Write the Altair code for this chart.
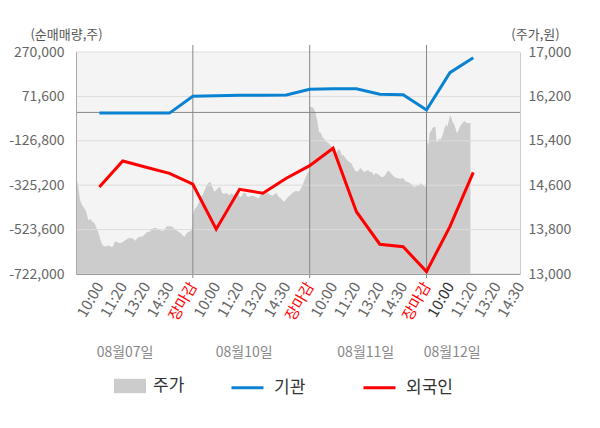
import json
import altair as alt
import pandas as pd

FONT = "Noto Sans CJK KR"

# ---- data ----
left_ticks = [270000, 71600, -126800, -325200, -523600, -722000]
right_ticks = [17000, 16200, 15400, 14600, 13800, 13000]
time_labels = ["10:00", "11:20", "13:20", "14:30", "장마감"] * 3 + ["10:00", "11:20", "13:20", "14:30"]
day_labels = ["08월07일", "08월10일", "08월11일", "08월12일"]
day_label_pos = [2.1, 7.2, 12.4, 16.1]
day_breaks = [5, 10, 15]

line_slots = list(range(1, 18))
inst = [-3000, -3000, -3000, -3000, 72000, 74000, 76500, 76500, 77900, 103300,
        106000, 106000, 81000, 79200, 10800, 177500, 244500]
foreign = [-333000, -217000, -245000, -272000, -321000, -522000, -343500, -361000,
           -294000, -238000, -160000, -443500, -589000, -600000, -711500, -510500, -267500]

price_d1 = [14780, 14600, 14330, 14240, 14190, 14120, 13970, 13990, 13940, 13920, 13830,
            13740, 13610, 13520, 13500, 13500, 13520, 13490, 13490, 13580, 13580, 13560,
            13560, 13580, 13610, 13630, 13650, 13650, 13630, 13600, 13650, 13670, 13670,
            13690, 13740, 13760, 13760, 13810, 13830, 13830, 13810, 13790, 13780, 13780,
            13850, 13860, 13860, 13850, 13810, 13790, 13760, 13740, 13700, 13670, 13740,
            13760, 13780, 13830]
price_d2 = [14060, 14170, 14210, 14280, 14370, 14420, 14510, 14590, 14640, 14660, 14570,
            14480, 14510, 14550, 14570, 14460, 14440, 14460, 14440, 14420, 14460, 14420,
            14460, 14460, 14390, 14390, 14460, 14460, 14390, 14390, 14410, 14410, 14390,
            14370, 14370, 14440, 14460, 14440, 14460, 14440, 14420, 14410, 14440, 14460,
            14390, 14370, 14330, 14300, 14350, 14390, 14420, 14460, 14480, 14500, 14480,
            14510, 14570, 14660, 14750, 14820, 14870]
price_d3 = [16010, 16010, 15990, 15920, 15770, 15560, 15540, 15450, 15430, 15380, 15360,
            15320, 15270, 15140, 15180, 15230, 15250, 15140, 15140, 15090, 15050, 15020,
            15000, 14930, 14870, 14840, 14870, 14910, 14870, 14840, 14860, 14870, 14840,
            14840, 14780, 14820, 14800, 14780, 14750, 14750, 14780, 14840, 14860, 14820,
            14780, 14750, 14730, 14730, 14710, 14730, 14710, 14660, 14660, 14640, 14620,
            14570, 14570, 14590, 14590, 14640, 14600, 14570, 14570]
price_d4 = [15410, 15360, 15320, 15540, 15560, 15590, 15630, 15650, 15650, 15650, 15380,
            15380, 15430, 15430, 15430, 15450, 15500, 15560, 15630, 15670, 15700, 15650,
            15740, 15810, 15860, 15810, 15740, 15720, 15680, 15630, 15560, 15540, 15590,
            15630, 15670, 15700, 15720, 15740, 15760, 15740, 15720, 15720, 15720, 15720,
            15720]
day_spans = [(0, 5), (5, 10), (10, 15), (15, 16.88)]

# ---- tables ----
rows = []
for vals, (a, b) in zip([price_d1, price_d2, price_d3, price_d4], day_spans):
    n = len(vals)
    for i, v in enumerate(vals):
        rows.append({"slot": a + (b - a) * i / (n - 1), "price": v, "series": "주가"})
price_df = pd.DataFrame(rows)

lines_df = pd.DataFrame(
    [{"slot": s, "value": v, "series": "기관"} for s, v in zip(line_slots, inst)]
    + [{"slot": s, "value": v, "series": "외국인"} for s, v in zip(line_slots, foreign)]
)
grid_df = pd.DataFrame({"v": left_ticks})
zero_df = pd.DataFrame({"v": [0]})
sep_df = pd.DataFrame({"slot": day_breaks})
dates_df = pd.DataFrame({"pos": day_label_pos, "label": day_labels})

# ---- scales & axes ----
def xscale():
    return alt.Scale(domain=[0, 19], nice=False, zero=False)

def ly_scale():
    return alt.Scale(domain=[-722000, 270000], nice=False, zero=False)

def ry_scale():
    return alt.Scale(domain=[13000, 17000], nice=False, zero=False)

def x_axis():
    return alt.Axis(
        values=list(range(1, 20)),
        labelExpr=json.dumps(time_labels) + "[datum.value - 1]",
        labelAngle=300, labelAlign="right", labelBaseline="middle",
        labelPadding=9, labelFontSize=15, labelFont=FONT, labelOverlap=False,
        labelFlush=False, ticks=False, domainColor="#999999", grid=False, title=None,
        zindex=1,
        labelColor={"condition": [{"test": "datum.value % 5 == 0", "value": "#ff0000"},
                                  {"test": "datum.value == 16", "value": "#333333"}],
                    "value": "#666666"},
    )

left_axis = alt.Axis(
    orient="left", values=left_ticks,
    labelExpr="datum.value < 0 ? '-' + format(-datum.value, ',') : format(datum.value, ',')",
    labelFontSize=14, labelColor="#666666", labelPadding=12, ticks=False,
    domainColor="#aaaaaa", grid=False, title="(순매매량,주)", titleAngle=0,
    titleAlign="center", titleBaseline="alphabetic", titleX=-10, titleY=-14,
    titleFontSize=13, titleFontWeight="normal", titleColor="#555555", zindex=1,
)
right_axis = alt.Axis(
    orient="right", values=right_ticks, labelExpr="format(datum.value, ',')",
    labelFontSize=14, labelColor="#666666", labelPadding=8, ticks=False,
    domainColor="#cccccc", grid=False, title="(주가,원)", titleAngle=0,
    titleAlign="center", titleBaseline="alphabetic", titleX=15, titleY=-14,
    titleFontSize=13, titleFontWeight="normal", titleColor="#555555", zindex=1,
)

fill_legend = alt.Legend(
    orient="none", legendX=38, legendY=318, title=None,
    symbolType="M-1,-0.45H1V0.45H-1Z", symbolSize=1024, symbolStrokeWidth=0,
    labelFontSize=17, labelColor="#333333", labelOffset=7, labelFont=FONT,
)
stroke_legend = alt.Legend(
    orient="none", legendX=154, legendY=318, direction="horizontal", title=None,
    symbolType="stroke", symbolSize=1024, symbolStrokeWidth=3,
    labelFontSize=17, labelColor="#333333", labelOffset=9, columnPadding=51,
    labelFont=FONT,
)

# ---- layers ----
area = alt.Chart(price_df).mark_area(opacity=1).encode(
    x=alt.X("slot:Q", scale=xscale(), axis=x_axis()),
    y=alt.Y("price:Q", scale=ry_scale(), axis=right_axis),
    y2=alt.datum(13000),
    fill=alt.Fill("series:N", scale=alt.Scale(domain=["주가"], range=["#cccccc"]),
                  legend=fill_legend),
)
grid = alt.Chart(grid_df).mark_rule(color="#dcdcdc", strokeWidth=1).encode(
    y=alt.Y("v:Q", scale=ly_scale(), axis=None)
)
zero = alt.Chart(zero_df).mark_rule(color="#888888", strokeWidth=1).encode(
    y=alt.Y("v:Q", scale=ly_scale(), axis=None)
)
sep = alt.Chart(sep_df).mark_rule(color="#888888", strokeWidth=1).encode(
    x=alt.X("slot:Q", scale=xscale(), axis=x_axis()),
    y=alt.value(-7), y2=alt.value(226),
)
lines = alt.Chart(lines_df).mark_line(strokeWidth=3).encode(
    x=alt.X("slot:Q", scale=xscale(), axis=x_axis()),
    y=alt.Y("value:Q", scale=ly_scale(), axis=left_axis),
    color=alt.Color("series:N",
                    scale=alt.Scale(domain=["기관", "외국인"], range=["#0a82d2", "#ff0000"]),
                    legend=stroke_legend),
    order="slot:Q",
)
dates = alt.Chart(dates_df).mark_text(font=FONT, fontSize=14, color="#888888",
                                      baseline="middle").encode(
    x=alt.X("pos:Q", scale=xscale(), axis=x_axis()),
    y=alt.value(301),
    text="label:N",
)

chart = (
    alt.layer(area, grid, zero, sep, lines, dates)
    .resolve_scale(y="independent")
    .properties(
        width=444, height=222,
        autosize=alt.AutoSizeParams(type="none"),
        padding={"left": 68, "top": 44, "right": 72, "bottom": 150},
    )
    .configure_view(stroke=None, fill="#f4f4f4")
    .configure_axis(labelFont=FONT, titleFont=FONT)
    .configure_legend(labelFont=FONT)
)

chart.save("out.html", embed_options={"renderer": "svg", "actions": False})
